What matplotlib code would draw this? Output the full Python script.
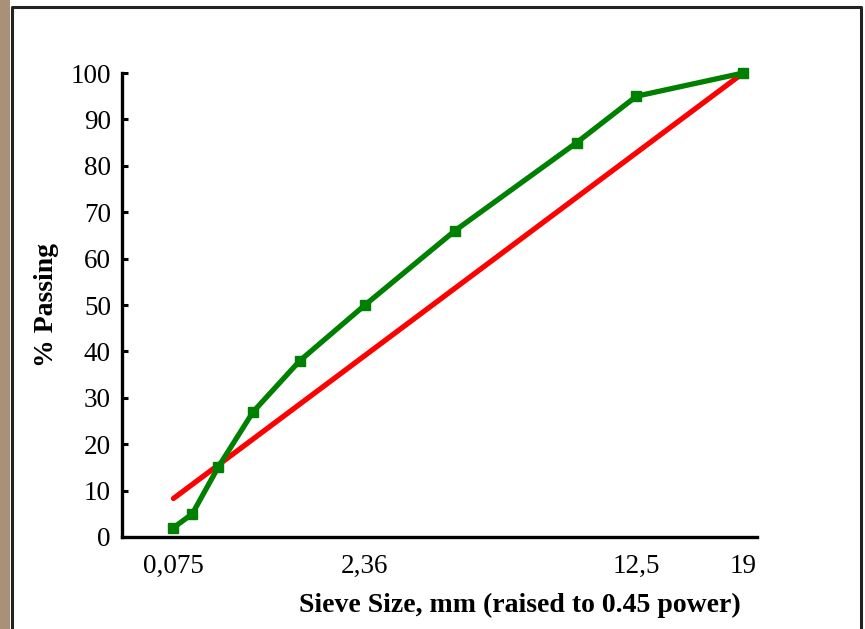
import numpy as np
import matplotlib.pyplot as plt
from matplotlib.patches import Rectangle
from matplotlib.lines import Line2D

plt.rcParams['font.family'] = ['Liberation Serif', 'DejaVu Serif']

# sieve sizes (mm) and gradation
sieve = [0.075, 0.15, 0.3, 0.6, 1.18, 2.36, 4.75, 9.5, 12.5, 19]
passing = [2, 5, 15, 27, 38, 50, 66, 85, 95, 100]

# maximum density line end points
mdl_sieve = [0.075, 19]
mdl_passing = [8.3, 100]

tick_sizes = [0.075, 2.36, 12.5, 19]
tick_labels = ['0,075', '2,36', '12,5', '19']
power = 0.45

fig = plt.figure(figsize=(8.65, 6.29), dpi=100)
fig.patch.set_facecolor('white')

# textured left strip and frame
fig.patches.append(Rectangle((0, 0), 10 / 865, 1, transform=fig.transFigure,
                             facecolor='#a99178', edgecolor='none'))
fx = [12 / 865, 12 / 865, 861 / 865, 861 / 865]
fy = [0, 1 - 7 / 629, 1 - 7 / 629, 0]
fig.lines.append(Line2D(fx, fy, transform=fig.transFigure, color='#222222', lw=2.2))

ax = fig.add_axes([122 / 865, 1 - 537 / 629, (757 - 122) / 865, (537 - 73) / 629])

ax.plot(np.power(mdl_sieve, power), mdl_passing, color='#ff0000', lw=3.8,
        solid_capstyle='round', clip_on=False)
ax.plot(np.power(sieve, power), passing, color='#008000', lw=3.8, marker='s',
        ms=7.5, clip_on=False)

ax.set_xlim(0, 3.846)
ax.set_ylim(0, 100)
ax.set_yticks(np.arange(0, 101, 10))
ax.set_xticks(np.power(tick_sizes, power))
ax.set_xticklabels(tick_labels)

for s in ['top', 'right']:
    ax.spines[s].set_visible(False)
for s in ['left', 'bottom']:
    ax.spines[s].set_linewidth(2.4)

ax.tick_params(axis='y', direction='in', length=4, width=2.2, labelsize=19.5, pad=8)
ax.tick_params(axis='x', length=0, labelsize=19.5, pad=12)

ax.set_xlabel('Sieve Size, mm (raised to 0.45 power)', fontsize=20,
              fontweight='bold')
ax.xaxis.set_label_coords(0.627, -0.12)
ax.set_ylabel('% Passing', fontsize=20, fontweight='bold')
ax.yaxis.set_label_coords(-0.1, 0.5)

fig.savefig('out.png', dpi=100)
